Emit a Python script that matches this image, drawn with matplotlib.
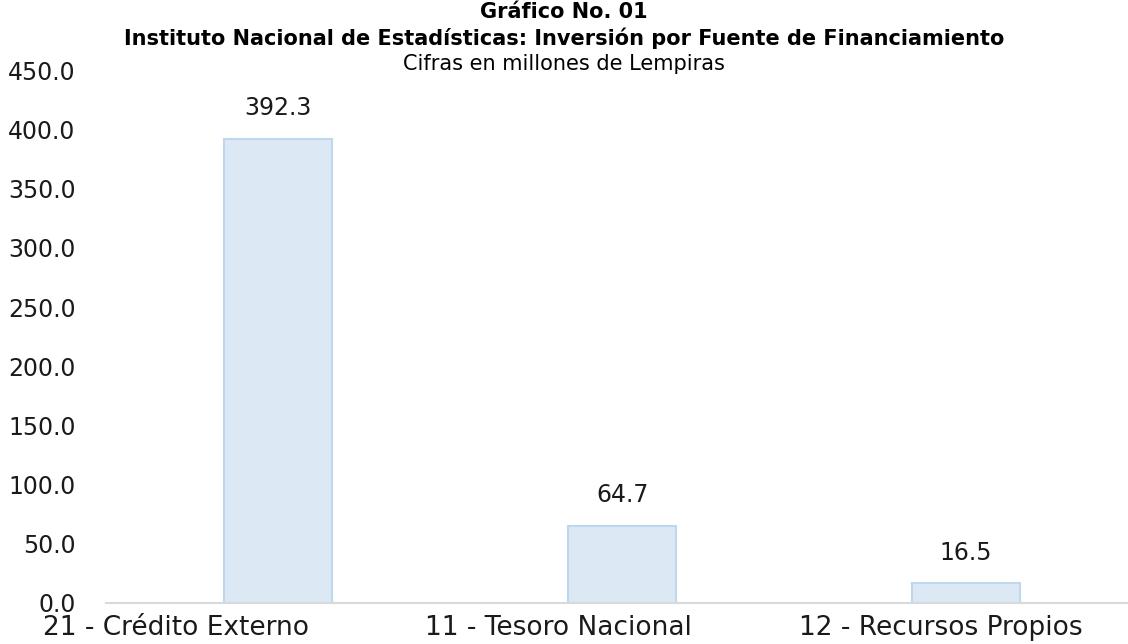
import matplotlib.pyplot as plt
from matplotlib.transforms import ScaledTranslation

categories = ['21 - Crédito Externo', '11 - Tesoro Nacional', '12 - Recursos Propios']
values = [392.3, 64.7, 16.5]
yticks = [0, 50, 100, 150, 200, 250, 300, 350, 400, 450]
# horizontal shift of each category label in the source (pixels)
label_shift = [-102, -64, -25]

plt.rcParams['font.family'] = ['DejaVu Sans']

fig = plt.figure(figsize=(11.28, 6.44), dpi=100)
# axis runs past the right edge, as in the source image
ax = fig.add_axes([0.094, 0.0637, 0.915, 0.827])

x = range(len(categories))
ax.bar(x, values, width=0.315, color='#DDE8F5', edgecolor='#BDD7EE', linewidth=1.5, zorder=2)
for xi, v in zip(x, values):
    ax.text(xi, v + 16, f'{v:.1f}', ha='center', va='bottom', fontsize=17, color='#1a1a1a')

ax.set_xlim(-0.5, 2.5)
ax.set_ylim(0, 450)
ax.set_yticks(yticks)
ax.set_yticklabels([f'{t:.1f}' for t in yticks], fontsize=17, color='#1a1a1a')
ax.set_xticks(list(x))
ax.set_xticklabels(categories, fontsize=19, color='#1a1a1a')
ax.tick_params(axis='both', length=0)
ax.tick_params(axis='y', pad=22)
ax.tick_params(axis='x', pad=9)
for lab, dx in zip(ax.get_xticklabels(), label_shift):
    lab.set_transform(lab.get_transform() + ScaledTranslation(dx / 100, 0, fig.dpi_scale_trans))
for s in ['top', 'right', 'left']:
    ax.spines[s].set_visible(False)
ax.spines['bottom'].set_color('#D9D9D9')
ax.spines['bottom'].set_linewidth(1.5)

fig.text(0.5, 0.981, 'Gráfico No. 01', ha='center', va='center', fontsize=15, fontweight='bold')
fig.text(0.5, 0.941, 'Instituto Nacional de Estadísticas: Inversión por Fuente de Financiamiento',
         ha='center', va='center', fontsize=15, fontweight='bold')
fig.text(0.5, 0.901, 'Cifras en millones de Lempiras', ha='center', va='center', fontsize=15)

fig.savefig('out.png', dpi=100)
